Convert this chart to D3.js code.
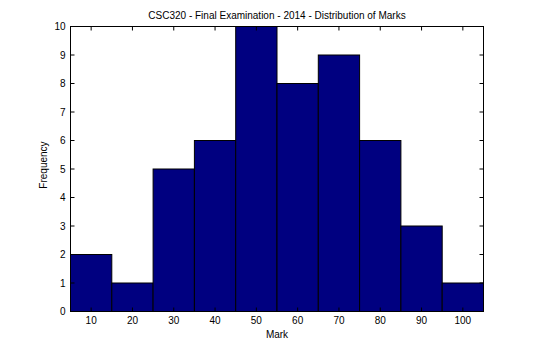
<!DOCTYPE html>
<html><head><meta charset="utf-8">
<script src="https://cdn.jsdelivr.net/npm/d3@7"></script>
<style>body{margin:0;background:#fff}svg{display:block}text{font-family:"Liberation Sans",Arial,sans-serif;font-size:10px;fill:#000}</style>
</head><body>
<script>
const binCenters = [10,20,30,40,50,60,70,80,90,100];
const counts = [2,1,5,6,10,8,9,6,3,1];
const yTicks = [0,1,2,3,4,5,6,7,8,9,10];
const xTicks = [10,20,30,40,50,60,70,80,90,100];
const title = "CSC320 - Final Examination - 2014 - Distribution of Marks";

const W=535,H=351, L=70.5, R=483.5, T=26.5, B=311.5;
const svg=d3.select("body").append("svg").attr("width",W).attr("height",H);
const x=d3.scaleLinear().domain([5,105]).range([L,R]);
const y=d3.scaleLinear().domain([0,10]).range([B,T]);

svg.append("g").selectAll("rect").data(counts).join("rect")
  .attr("x",(d,i)=>x(binCenters[i]-5)).attr("width",(d,i)=>x(binCenters[i]+5)-x(binCenters[i]-5))
  .attr("y",d=>y(d)).attr("height",d=>y(0)-y(d))
  .attr("fill","#000080").attr("stroke","#000").attr("stroke-width",1);

const tl=4;
const ax=svg.append("g").attr("stroke","#000").attr("stroke-width",1);
ax.append("rect").attr("x",L).attr("y",T).attr("width",R-L).attr("height",B-T).attr("fill","none");
xTicks.forEach(t=>{
  ax.append("line").attr("x1",x(t)).attr("x2",x(t)).attr("y1",B).attr("y2",B-tl);
  ax.append("line").attr("x1",x(t)).attr("x2",x(t)).attr("y1",T).attr("y2",T+tl);
});
yTicks.forEach(t=>{
  ax.append("line").attr("x1",L).attr("x2",L+tl).attr("y1",y(t)).attr("y2",y(t));
  ax.append("line").attr("x1",R).attr("x2",R-tl).attr("y1",y(t)).attr("y2",y(t));
});
svg.append("g").selectAll("text").data(xTicks).join("text")
  .attr("x",d=>x(d)).attr("y",B+12).attr("text-anchor","middle").text(d=>d);
svg.append("g").selectAll("text").data(yTicks).join("text")
  .attr("x",L-5).attr("y",d=>y(d)+3.5).attr("text-anchor","end").text(d=>d);
svg.append("text").attr("x",(L+R)/2).attr("y",18.5).attr("text-anchor","middle").text(title);
svg.append("text").attr("x",(L+R)/2).attr("y",338).attr("text-anchor","middle").text("Mark");
svg.append("text").attr("transform",`translate(47,165) rotate(-90)`).attr("text-anchor","middle").text("Frequency");
</script>
</body></html>
